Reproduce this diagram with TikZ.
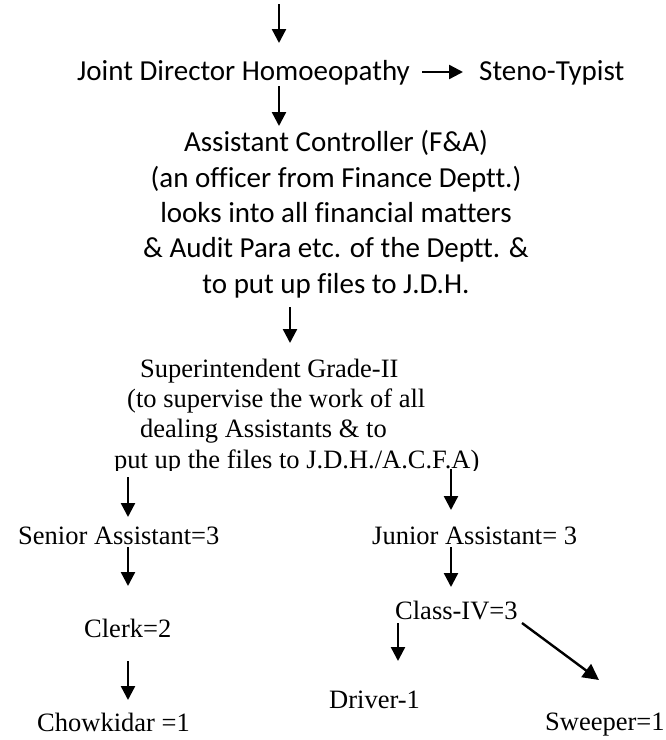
\documentclass[tikz,border=0pt]{standalone}
\usepackage{fontspec}
\setmainfont[Ligatures=NoCommon]{Liberation Serif}
\newfontfamily\calfont[Ligatures=NoCommon]{Carlito}
\usetikzlibrary{arrows.meta,calc}
\begin{document}
\begin{tikzpicture}[x=1pt,y=1pt,
  arr/.style={line width=2.4pt,-{Triangle[length=14pt,width=14pt]}},
  sanslbl/.style={inner sep=0pt,font=\calfont\fontsize{29}{35.3}\selectfont},
  seriflbl/.style={inner sep=0pt,font=\fontsize{26.5}{30.3}\selectfont}]
\useasboundingbox (0,0) rectangle (666,-740);
\coordinate (top) at (279,-4);
\node[sanslbl,anchor=base west] (jd) at (77,-80) {Joint Director Homoeopathy};
\node[sanslbl,anchor=base west] (steno) at (479,-80) {Steno-Typist};
\node[sanslbl,anchor=base,align=center] (acfa) at (336,-293)
  {Assistant Controller (F\&A)\\(an officer from Finance Deptt.)\\looks into all financial matters\\\& Audit Para etc. of the Deptt. \&\\to put up files to J.D.H.};
\begin{scope}
\clip (0,-470) rectangle (666,-340);
\node[seriflbl,anchor=base west,align=left] (supt) at (114,-468)
  {\hspace*{26pt}Superintendent Grade-II\\\hspace*{13pt}(to supervise the work of all\\\hspace*{26pt}dealing Assistants \& to\\put up the files to J.D.H./A.C.F.A)};
\end{scope}
\node[seriflbl,anchor=base west] (senior) at (18,-544) {Senior Assistant=3};
\node[seriflbl,anchor=base west] (junior) at (372,-544) {Junior Assistant= 3};
\node[seriflbl,anchor=base west] (clerk) at (84,-637) {Clerk=2};
\node[seriflbl,anchor=base west] (chow) at (37,-731) {Chowkidar =1};
\node[seriflbl,anchor=base west] (class4) at (395,-619) {Class-IV=3};
\node[seriflbl,anchor=base west] (driver) at (329,-708) {Driver-1};
\node[seriflbl,anchor=base west] (sweeper) at (545,-730) {Sweeper=1};
\draw[arr] (top) -- ($(jd.base west)+(202,37)$);
\draw[arr] ($(jd.base west)+(345,8)$) -- ($(steno.base west)+(-16,8)$);
\draw[arr] ($(jd.base west)+(202,-6)$) -- ($(acfa.base)+(-57,167)$);
\draw[arr] ($(acfa.base)+(-46,-14)$) -- ($(supt.base west)+(176,125)$);
\draw[arr] ($(supt.base west)+(14,-9)$) -- ($(senior.base west)+(110,27)$);
\draw[arr] ($(supt.base west)+(337,-1)$) -- ($(junior.base west)+(79,34)$);
\draw[arr] ($(senior.base west)+(110,-3)$) -- ($(clerk.base west)+(44,51)$);
\draw[arr] ($(junior.base west)+(79,-3)$) -- ($(class4.base west)+(56,32)$);
\draw[arr] ($(clerk.base west)+(44,-24)$) -- ($(chow.base west)+(91,31)$);
\draw[arr] ($(class4.base west)+(3,-4)$) -- ($(driver.base west)+(69,47)$);
\draw[arr,-{Triangle[length=16pt,width=16pt]}] ($(class4.base west)+(127,-4)$) -- ($(sweeper.base west)+(54,50)$);
\end{tikzpicture}
\end{document}
